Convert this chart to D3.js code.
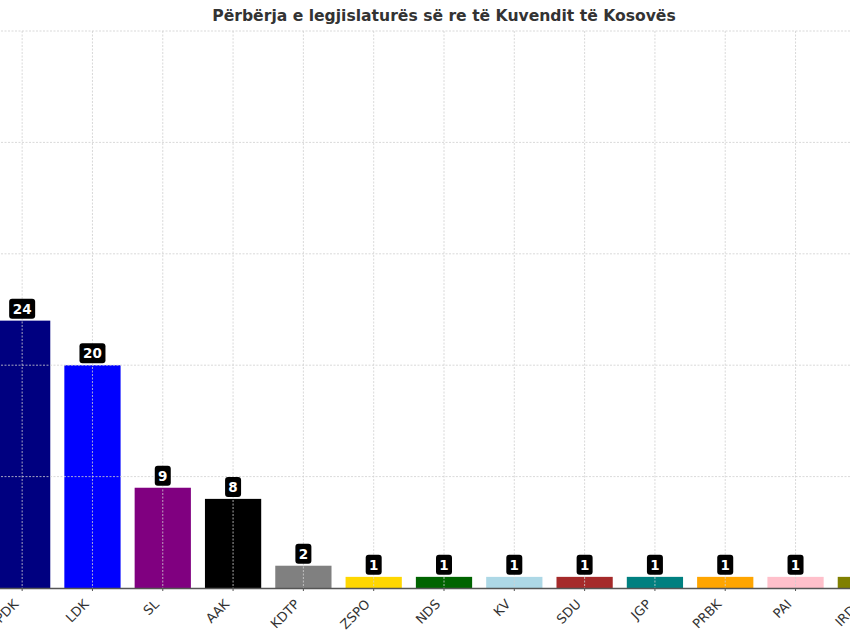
<!DOCTYPE html>
<html>
<head>
<meta charset="utf-8">
<script src="https://cdn.jsdelivr.net/npm/d3@7"></script>
<style>
  body { margin: 0; background: #fff; overflow: hidden; }
  svg { display: block; font-family: "DejaVu Sans", sans-serif; }
</style>
</head>
<body>
<svg id="chart" width="850" height="636"></svg>
<script>
// Data
const parties = ["PDK", "LDK", "SL", "AAK", "KDTP", "ZSPO", "NDS", "KV", "SDU", "JGP", "PRBK", "PAI", "IRDK"];
const seats = [24, 20, 9, 8, 2, 1, 1, 1, 1, 1, 1, 1, 1];
const colors = ["#000080", "#0000ff", "#800080", "#000000", "#808080", "#ffd700", "#006400",
  "#add8e6", "#a52a2a", "#008080", "#ffa500", "#ffc0cb", "#808000"];
const yTicks = [0, 10, 20, 30, 40, 50];
const title = "Përbërja e legjislaturës së re të Kuvendit të Kosovës";

const svg = d3.select("#chart");

// Scales (plot is wider than the window, both ends are cut off)
const x = d3.scaleBand().domain(parties).range([-13, 901]).paddingInner(0.2).paddingOuter(0.1);
const y = d3.scaleLinear().domain([0, 50]).range([588, 31]);

// Title
svg.append("text")
  .attr("x", 444)
  .attr("y", 21)
  .attr("text-anchor", "middle")
  .attr("font-size", 15.6)
  .attr("font-weight", "bold")
  .attr("fill", "#333")
  .text(title);

// Bars
svg.append("g")
  .selectAll("rect")
  .data(parties)
  .join("rect")
  .attr("x", d => x(d))
  .attr("width", x.bandwidth())
  .attr("y", (d, i) => y(seats[i]))
  .attr("height", (d, i) => y(0) - y(seats[i]))
  .attr("fill", (d, i) => colors[i]);

// Grid on top of bars
const grid = svg.append("g").attr("stroke", "#cfcfcf").attr("stroke-width", 0.8).attr("stroke-dasharray", "2,1.5");
grid.selectAll("line.h")
  .data(yTicks.slice(1))
  .join("line")
  .attr("class", "h")
  .attr("x1", -20).attr("x2", 900)
  .attr("y1", d => y(d)).attr("y2", d => y(d));
grid.selectAll("line.v")
  .data(parties)
  .join("line")
  .attr("class", "v")
  .attr("x1", d => x(d) + x.bandwidth() / 2).attr("x2", d => x(d) + x.bandwidth() / 2)
  .attr("y1", y(50)).attr("y2", y(0));

// X axis
const xAxis = svg.append("g")
  .attr("transform", `translate(0,${y(0)})`)
  .call(d3.axisBottom(x).tickSize(3).tickSizeOuter(0));
xAxis.select(".domain").attr("stroke", "#555").attr("stroke-width", 1.5);
xAxis.selectAll(".tick line").attr("stroke", "#555");
xAxis.selectAll(".tick text")
  .attr("font-family", "DejaVu Sans, sans-serif")
  .attr("font-size", 13)
  .attr("fill", "#333")
  .attr("text-anchor", "end")
  .attr("y", 0)
  .attr("dy", 0)
  .attr("transform", "translate(-3,17) rotate(-45)");

// Value labels
const labels = svg.append("g")
  .selectAll("g")
  .data(parties)
  .join("g")
  .attr("transform", (d, i) => `translate(${x(d) + x.bandwidth() / 2},${y(seats[i]) - 12})`);

labels.append("rect")
  .attr("x", (d, i) => String(seats[i]).length > 1 ? -13 : -8)
  .attr("y", -10)
  .attr("width", (d, i) => String(seats[i]).length > 1 ? 26 : 16)
  .attr("height", 20)
  .attr("rx", 3)
  .attr("fill", "#000");

labels.append("text")
  .attr("text-anchor", "middle")
  .attr("dy", "0.37em")
  .attr("font-size", 13.5)
  .attr("font-weight", "bold")
  .attr("fill", "#fff")
  .text((d, i) => seats[i]);
</script>
</body>
</html>
